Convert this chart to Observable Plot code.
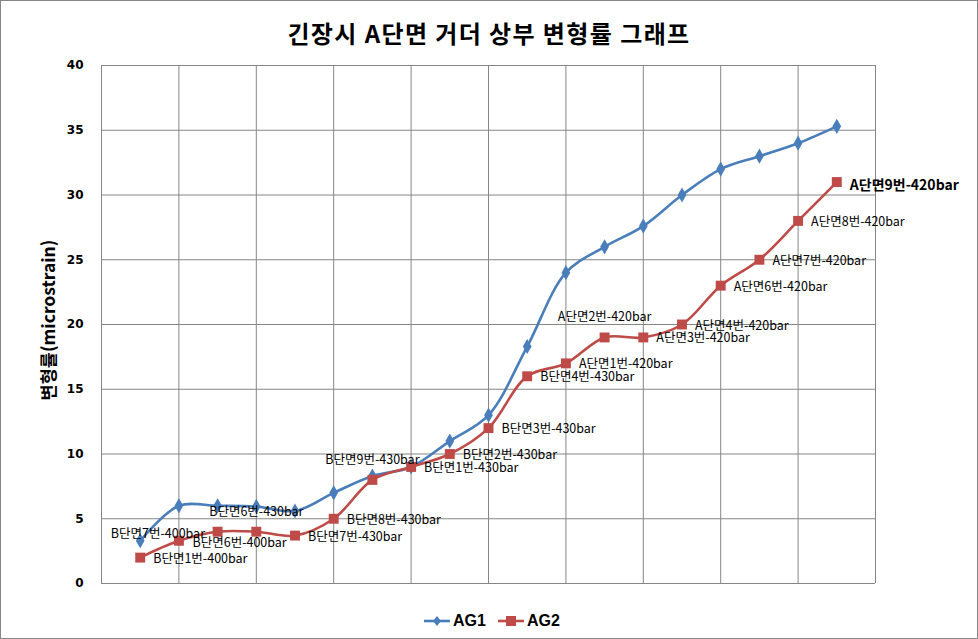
<!DOCTYPE html>
<html><head><meta charset="utf-8">
<script src="https://cdn.jsdelivr.net/npm/d3@7"></script>
<script src="https://cdn.jsdelivr.net/npm/@observablehq/plot@0.6"></script>
<style>
body{margin:0;background:#fff;}
#chart{position:relative;width:978px;height:639px;overflow:hidden;font-family:"Noto Sans CJK KR",sans-serif;background:#fff;}
#chart svg{position:absolute;left:0;top:0;}
#border{position:absolute;left:0;top:0;width:978px;height:639px;box-sizing:border-box;border:1px solid #868686;pointer-events:none;}
#title{position:absolute;left:0;width:978px;top:17px;text-align:center;font-size:24px;font-weight:bold;line-height:32px;color:#000;letter-spacing:1.4px;}
#ytitle{position:absolute;left:47px;top:320px;transform:translate(-50%,-50%) rotate(-90deg);white-space:nowrap;font-size:17.5px;font-weight:bold;color:#000;}
#legend{position:absolute;top:611px;left:424px;display:flex;align-items:center;font-family:"Liberation Sans",Arial,sans-serif;font-weight:bold;font-size:16px;color:#000;}
#legend .item{display:flex;align-items:center;margin-right:12px;}
#legend svg{position:static;margin-right:3px;}
</style>
</head><body>
<div id="chart">
  <div id="title">긴장시 A단면 거더 상부 변형률 그래프</div>
  <div id="ytitle">변형률(microstrain)</div>
  <div id="legend"></div>
  <div id="border"></div>
</div>
<script>
// data
const pointNo = [1,2,3,4,5,6,7,8,9,10,11,12,13,14,15,16,17,18,19];
const ag1 = [3.3,6.0,6.0,5.95,5.6,7.0,8.3,9.0,11.0,13.0,18.3,24.0,26.0,27.6,30.0,32.0,33.0,34.0,35.3];
const ag2 = [2.0,3.3,4.0,4.0,3.7,5.0,8.0,9.0,10.0,12.0,16.0,17.0,19.0,19.0,20.0,23.0,25.0,28.0,31.0];
const ag2Labels = [
  "B단면1번-400bar","B단면7번-400bar","B단면6번-400bar","B단면6번-430bar","B단면7번-430bar",
  "B단면8번-430bar","B단면9번-430bar","B단면1번-430bar","B단면2번-430bar","B단면3번-430bar",
  "B단면4번-430bar","A단면1번-420bar","A단면2번-420bar","A단면3번-420bar","A단면4번-420bar",
  "A단면6번-420bar","A단면7번-420bar","A단면8번-420bar","A단면9번-420bar"
];
const labelPlacement = ["right","aboveLeft","belowRight","above","right","right","above","right","right","right",
  "right","right","above","right","right","right","right","right","emphasis"];
const seriesNames = ["AG1","AG2"];
const yTicks = [0,5,10,15,20,25,30,35,40];
const xGrid = [0,2,4,6,8,10,12,14,16,18,20];

const colors = {AG1:"#4A7EBB", AG2:"#BE4B48"};
const rows1 = pointNo.map((x,i)=>({x, y:ag1[i]}));
const rows2 = pointNo.map((x,i)=>({x, y:ag2[i], label:ag2Labels[i], place:labelPlacement[i]}));

const placeStyles = {
  right:{textAnchor:"start", dx:13, dy:1, fontSize:12.5, fontWeight:"normal"},
  aboveLeft:{textAnchor:"middle", dx:-21, dy:-7, fontSize:12.5, fontWeight:"normal"},
  belowRight:{textAnchor:"middle", dx:22, dy:11, fontSize:12.5, fontWeight:"normal"},
  above:{textAnchor:"middle", dx:0, dy:-20, fontSize:12.5, fontWeight:"normal"},
  emphasis:{textAnchor:"start", dx:13, dy:3, fontSize:14, fontWeight:"bold"}
};
const labelMarks = Object.entries(placeStyles).map(([k,s]) =>
  Plot.text(rows2.filter(d=>d.place===k), {x:"x", y:"y", text:"label", fill:"#000",
    fontFamily:"'Noto Sans CJK KR', sans-serif", ...s}));

const gridColor = "#868686";
const plot = Plot.plot({
  width:978, height:639,
  marginLeft:101, marginRight:103, marginTop:65, marginBottom:56,
  x:{domain:[0,20], axis:null},
  y:{domain:[0,40]},
  style:{background:"transparent"},
  marks:[
    Plot.ruleY(yTicks, {stroke:gridColor, strokeWidth:1}),
    Plot.ruleX(xGrid, {stroke:gridColor, strokeWidth:1}),
    Plot.axisY(yTicks, {tickSize:0, tickPadding:18, fontSize:12, fontWeight:"bold",
      fontFamily:"'DejaVu Sans', sans-serif", fill:"#000", label:null}),
    Plot.line(rows1, {x:"x", y:"y", stroke:colors.AG1, strokeWidth:2.6, curve:"catmull-rom"}),
    Plot.dot(rows1, {x:"x", y:"y", symbol:"diamond", r:4.6, fill:colors.AG1, stroke:"none"}),
    Plot.line(rows2, {x:"x", y:"y", stroke:colors.AG2, strokeWidth:2.6, curve:"catmull-rom"}),
    Plot.dot(rows2, {x:"x", y:"y", symbol:"square", r:5.6, fill:colors.AG2, stroke:"none"}),
    ...labelMarks
  ]
});
const chart = document.getElementById("chart");
chart.insertBefore(plot, chart.firstChild);

// legend
const legend = document.getElementById("legend");
seriesNames.forEach(name=>{
  const item = document.createElement("div");
  item.className = "item";
  const isSq = name==="AG2";
  const c = colors[name];
  const mk = isSq ? `<rect x="8" y="5" width="10" height="10" fill="${c}"/>`
                  : `<path d="M13,5 L17,10 L13,15 L9,10 Z" fill="${c}"/>`;
  item.innerHTML = `<svg width="26" height="20"><line x1="0" x2="26" y1="10" y2="10" stroke="${c}" stroke-width="2.6"/>${mk}</svg><span>${name}</span>`;
  legend.appendChild(item);
});
</script>
</body></html>
